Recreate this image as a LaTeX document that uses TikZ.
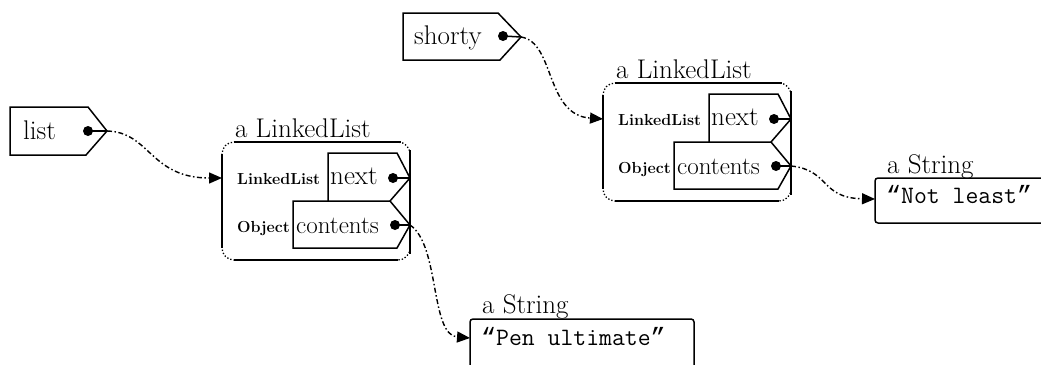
\documentclass[tikz,border=0pt]{standalone}
\usepackage{fontspec}
\newfontfamily\courfont{Liberation Mono}
\usetikzlibrary{arrows.meta}
\tikzset{
  big/.style={font=\fontsize{27}{32}\selectfont, inner sep=0pt},
  midtxt/.style={font=\fontsize{25}{30}\selectfont, inner sep=0pt},
  small/.style={font=\fontsize{16}{19}\selectfont\bfseries, inner sep=0pt},
  mono/.style={font=\fontsize{25}{30}\selectfont\ttfamily, inner sep=0pt},
  tagline/.style={line width=1.5pt, line join=miter},
  boxline/.style={line width=1.5pt},
  wire/.style={line width=1.5pt},
  ref/.style={line width=1.4pt, dash pattern=on 5pt off 2.5pt on 1.5pt off 2.5pt,
              -{Triangle[length=13pt,width=11pt]}},
  blob/.style={circle, fill, inner sep=0pt, minimum size=10pt}
}
\newcommand\myLQ{{\courfont “}}
\newcommand\myRQ{{\courfont ”}}
\newcommand\drawLL[1]{%
  \draw[dotted, line width=1.3pt, rounded corners=12pt] (222,142) rectangle (410,260);
  \draw[boxline] (234,142) -- (401,142);
  \draw[boxline] (222,154) -- (222,248);
  \draw[boxline] (410,150) -- (410,254);
  \draw[boxline] (234,260) -- (398,260);
  \node[big,anchor=base west] (#1title) at (235,137) {a LinkedList};
  \draw[tagline] (328,201) -- (328,153) -- (397,153) -- (410,178) -- (390,201);
  \draw[tagline] (293,201) -- (390,201) -- (410,225) -- (397,248) -- (293,248) -- cycle;
  \node[big,anchor=base west] (#1nexttxt) at (330,184) {next};
  \node[midtxt,anchor=base west] (#1conttxt) at (296,233) {contents};
  \node[small,anchor=base west] (#1lltxt) at (237,184) {LinkedList};
  \node[small,anchor=base west] (#1objtxt) at (237,232) {Object};
  \node[blob] (#1nextdot) at (393,178) {};
  \node[blob] (#1contdot) at (395,225) {};
  \coordinate (#1nexttip) at (410,178);
  \coordinate (#1conttip) at (410,225);
  \coordinate (#1in) at (222,178);
  \draw[wire] (#1nextdot.center) -- (#1nexttip);
  \draw[wire] (#1contdot.center) -- (#1conttip);
}
\begin{document}
\begin{tikzpicture}[x=1pt,y=-1pt]
\useasboundingbox (0,0) rectangle (1041,364);
\clip (0,0) rectangle (1041,364);
\fill[white] (0,0) rectangle (1041,364);

% list tag
\draw[tagline] (10,107) -- (88,107) -- (107,131) -- (86,155) -- (10,155) -- cycle;
\node[big,anchor=base west] (listtxt) at (23,139) {list};
\node[blob] (listdot) at (88,131) {};
\coordinate (listtip) at (107,131);
\draw[wire] (listdot.center) -- (listtip);

% shorty tag
\draw[tagline] (403,13) -- (498,13) -- (521,37) -- (500,60) -- (403,60) -- cycle;
\node[big,anchor=base west] (shortytxt) at (414,44) {shorty};
\node[blob] (shortydot) at (503,36) {};
\coordinate (shortytip) at (521,37);
\draw[wire] (shortydot.center) -- (shortytip);

% linked lists
\drawLL{a}
\begin{scope}[shift={(381,-59)}]
  \drawLL{b}
\end{scope}

% strings
\draw[boxline, rounded corners=3pt] (470,372) -- (470,319) -- (694,319) -- (694,372);
\node[big,anchor=base west] (s1title) at (482,313) {a String};
\node[mono,anchor=base west] (s1txt) at (481,345) {\myLQ Pen ultimate\myRQ};
\coordinate (s1in) at (470,338);

\draw[boxline, rounded corners=3pt] (1050,223) -- (875,223) -- (875,178) -- (1050,178);
\node[big,anchor=base west] (s2title) at (887,173) {a String};
\node[mono,anchor=base west] (s2txt) at (886,203) {\myLQ Not least\myRQ};
\coordinate (s2in) at (875,199);

% references
\draw[ref] (listtip) .. controls (150,132) and (150,178) .. (ain);
\draw[ref] (shortytip) .. controls (555,42) and (545,115) .. (bin);
\draw[ref] (aconttip) .. controls (440,245) and (430,335) .. (s1in);
\draw[ref] (bconttip) .. controls (830,170) and (820,198) .. (s2in);
\end{tikzpicture}
\end{document}
